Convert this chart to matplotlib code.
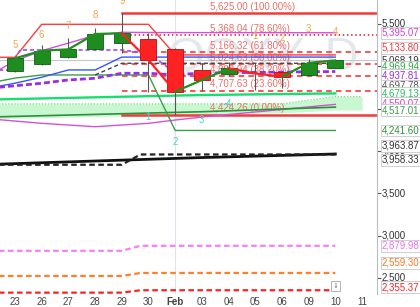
import matplotlib.pyplot as plt

plt.rcParams['font.family'] = ['Liberation Sans', 'DejaVu Sans']
plt.rcParams['font.size'] = 7
plt.rcParams['lines.scale_dashes'] = False

# daily bars, last one ("11") is only used by the forward cloud
days = ['23', '26', '27', '28', '29', '30', 'Feb', '03', '04', '05', '06', '09', '10', '11']
opens = [4944, 5023, 5106, 5200, 5271, 5322, 5200, 4956, 4905, 4925, 4936, 4900, 4985]
highs = [5106, 5251, 5330, 5448, 5625, 5389, 5210, 5040, 5055, 5035, 4945, 5085, 5080]
lows = [4935, 5020, 5100, 5195, 5160, 4700, 4424.26, 4713, 4880, 4720, 4740, 4890, 4978]
closes = [5094, 5183, 5200, 5381, 5389, 5074, 4700, 4837, 4975, 4915, 4877, 5040, 5068.19]

# fibonacci retracement (swing low / high)
fib_low = 4424.26
fib_high = 5625.00
fib_ratios = [1.0, 0.786, 0.618, 0.5, 0.382, 0.236, 0.0]

# indicator lines (bar index, value)
upper_x = [-1, 0, 1, 5, 6, 12]
upper_y = [5106, 5106, 5495, 5495, 5133.8, 5133.8]
lower_x = [-1, 0, 1, 5, 6, 12]
lower_y = [4800, 4860, 4897, 4897, 4241.6, 4241.6]
blue_x = [-1, 0, 1, 2, 3, 4, 12]
blue_y = [4740, 4800, 4870, 4956, 4956, 5108, 5108]
base_x = [3, 4, 12]
base_y = [4897, 5035, 5035]
violet_x = [-1, 1, 2, 3, 4, 5, 6, 7, 12]
violet_y = [4740, 4799, 4838, 4858, 4917, 4917, 4897, 4920, 4937.81]
violet2_x = [-1, -0.3, 0.2, 4, 5, 6]
violet2_y = [4955, 4955, 5192, 5192, 5150, 4925]
mag_up_x = [-1, 0, 1, 2, 3, 4, 5, 12]
mag_up_y = [4885, 5063, 5183, 5273, 5366, 5401, 5398, 5395.07]
mag_lo_x = [-1, 1, 3, 4, 5, 6, 7, 12]
mag_lo_y = [4380, 4326, 4286, 4306, 4326, 4365, 4400, 4550.07]
lime_x = [-1, 7, 12]
lime_y = [4606, 4660, 4679.13]
dkgreen_x = [-1, 7, 12]
dkgreen_y = [4400, 4463, 4517.01]
cloud_x = [-1, 10, 12, 13]
cloud_top = [4555, 4555, 4641, 4641]
cloud_bot = [4380, 4450, 4483, 4483]
sma_x = [-1, 7, 12]
sma_y = [3840, 3922, 3963.87]
step_x = [-1, 4, 4.7, 12]
black_step = [3837, 3837, 3958.33, 3958.33]
pink_step = [2821, 2821, 2879.98, 2879.98]
orange_step = [2524, 2524, 2559.30, 2559.30]
red_step = [2327, 2327, 2355.37, 2355.37]

# sequential counts
orange_n = ['5', '6', '7', '8', '9', '1', '2', '3', '4']
orange_i = [0, 1, 2, 3, 4, 9, 10, 11, 12]
orange_v = [5251, 5369, 5475, 5605, 5775, 5357, 5334, 5440, 5405]
cyan_n = ['1', '2', '3', '4']
cyan_i = [5, 6, 7, 8]
cyan_v = [4400, 4105, 4365, 4553]

# right scale
yt = [2500, 3000, 3500, 4000, 4500, 5000, 5500]
price_tags = [5395.07, 5133.80, 5068.19, 4969.94, 4937.81, 4697.78, 4679.13,
              4550.07, 4517.01, 4241.60, 3963.87, 3958.33, 2879.98, 2559.30, 2355.37]
tag_colors = ['#d63fd6', '#f03c3c', '#333333', '#2fae3f', '#9a2ee6', '#555555', '#22c55e',
              '#d63fd6', '#3a9e48', '#2f8f3f', '#333333', '#333333', '#f070f0', '#ff7722', '#ff2222']
tag_nudge = [0, -7, 0, -2, 3.5, -6, 0, -1, 3, 0, -8, 5.5, 0, -10, -3]  # px, collision shifts

fig = plt.figure(figsize=(4.2, 3.07), dpi=100)
ax = fig.add_axes([0, 13 / 307, 377 / 420, 294 / 307])
ax.set_xlim(-0.562, 13.56)
ax.set_ylim(2311, 5782)

# watermark
ax.text(9.3, 5097, 'QQXY, D', fontsize=34, color='#e4e7ec', ha='center', va='center', zorder=0)
ax.axvline(6, color='#dfe4ea', lw=0.8, zorder=0)
ax.axhline(closes[-1], color='#c8c8c8', lw=0.8, zorder=0.5)

# cloud
ax.fill_between(cloud_x, cloud_bot, cloud_top, color='#c9f7cf', lw=0, zorder=1)
ax.plot(cloud_x, cloud_top, color='#7fe08f', lw=1.0, ls=(0, (1, 1.2)), zorder=1.1)

# fib levels
for r in fib_ratios:
    lvl = fib_low + r * (fib_high - fib_low)
    if r in (0.0, 1.0):
        ls, lw = '-', 1.8
    elif r == 0.786:
        ls, lw = (0, (1, 2)), 1.4
    else:
        ls, lw = (0, (4, 3)), 1.2
    ax.plot([4, 14], [lvl, lvl], color='#f03c3c', lw=lw, ls=ls, zorder=1.6)
    ax.annotate(f'{lvl:,.2f} ({r * 100:.2f}%)', (7.3, lvl), xytext=(0, 4.7),
                textcoords='offset points', va='center', ha='left',
                color='#ee6f68', fontsize=7, zorder=1.5)

ax.plot(mag_lo_x, mag_lo_y, color='#d94fd9', lw=1.0, zorder=2)
ax.plot(dkgreen_x, dkgreen_y, color='#2f8f3f', lw=1.2, zorder=2)
ax.plot(lime_x, lime_y, color='#14e06e', lw=1.7, zorder=2)
ax.plot(mag_up_x, mag_up_y, color='#d94fd9', lw=1.0, zorder=2)
ax.plot(upper_x, upper_y, color='#ff3b3b', lw=1.0, zorder=2)
ax.plot(lower_x, lower_y, color='#3a9e48', lw=1.0, zorder=2)
ax.plot(blue_x, blue_y, color='#3355ff', lw=1.0, zorder=2)
ax.plot(base_x, base_y, color='#444444', lw=1.0, ls=(0, (3, 2)), zorder=2)
ax.plot(violet2_x, violet2_y, color='#a54cf0', lw=1.2, ls=(0, (3, 2)), zorder=2)
ax.plot(violet_x, violet_y, color='#9a2ee6', lw=2.0, ls=(0, (4.3, 2.2)), zorder=2.1)

ax.plot(sma_x, sma_y, color='#111111', lw=2.0, zorder=2)
ax.plot(step_x, black_step, color='#222222', lw=1.6, ls=(0, (4, 2.5)), zorder=2)
ax.plot(step_x, pink_step, color='#f77ef7', lw=1.6, ls=(0, (4, 2.5)), zorder=2)
ax.plot(step_x, orange_step, color='#ff7f2a', lw=1.6, ls=(0, (4, 2.5)), zorder=2)
ax.plot(step_x, red_step, color='#ff2020', lw=1.6, ls=(0, (4, 2.5)), zorder=2)

# candles
for i in range(len(closes)):
    up = closes[i] >= opens[i]
    ax.vlines(i, lows[i], highs[i], color='#555555', lw=0.8, zorder=3)
    ax.bar(i, abs(closes[i] - opens[i]), bottom=min(opens[i], closes[i]), width=0.6,
           color='#1e8c1e' if up else '#ff2222',
           edgecolor='#0d5e0d' if up else '#b31010', lw=0.6, zorder=3.1)

# close line, coloured by direction
for i in range(len(closes) - 1):
    c = '#1f8f1f' if closes[i + 1] >= closes[i] else '#ff1f1f'
    ax.plot([i, i + 1], [closes[i], closes[i + 1]], color=c, lw=1.6, zorder=3.5,
            solid_capstyle='round')

for n, i, v in zip(orange_n, orange_i, orange_v):
    ax.text(i, v, n, color='#f5a54a', ha='center', va='center', fontsize=7, zorder=4)
for n, i, v in zip(cyan_n, cyan_i, cyan_v):
    ax.text(i, v, n, color='#40d8c0', ha='center', va='center', fontsize=7, zorder=4)

ax.text(12, 2405, '⇓', fontsize=5, color='#777777', ha='center', va='center', zorder=4,
        bbox=dict(boxstyle='square,pad=0.2', fc='white', ec='#aaaaaa', lw=0.6))

# axes styling
for s in ['left', 'top', 'bottom']:
    ax.spines[s].set_visible(False)
ax.spines['right'].set_color('#b8bec6')
ax.spines['right'].set_linewidth(0.8)

ax.set_xticks(range(len(days)))
ax.set_xticklabels(days)
for lab in ax.get_xticklabels():
    lab.set_color('#444444')
    if lab.get_text() == 'Feb':
        lab.set_fontweight('bold')
ax.tick_params(axis='x', length=0, pad=2.5)

ax.yaxis.tick_right()
ax.set_yticks(yt)
ax.tick_params(axis='y', length=3, width=0.8, color='#555555', labelright=False)
for v in yt:
    ax.annotate(f'{v:,}', xy=(1, v), xycoords=('axes fraction', 'data'),
                xytext=(3.6, 0), textcoords='offset points', va='center', ha='left',
                color='#333333', fontsize=7, annotation_clip=False, zorder=5)

for k, (v, c, dn) in enumerate(zip(price_tags, tag_colors, tag_nudge)):
    ax.annotate(f'{v:,.2f}', xy=(1, v), xycoords=('axes fraction', 'data'),
                xytext=(3.6, -dn * 0.72), textcoords='offset points',
                va='center', ha='left', color=c, fontsize=7, annotation_clip=False,
                zorder=10 + k,
                bbox=dict(boxstyle='square,pad=0.1', fc='white', ec='#c8c8c8', lw=0.6))

fig.savefig('out.png', dpi=100)
